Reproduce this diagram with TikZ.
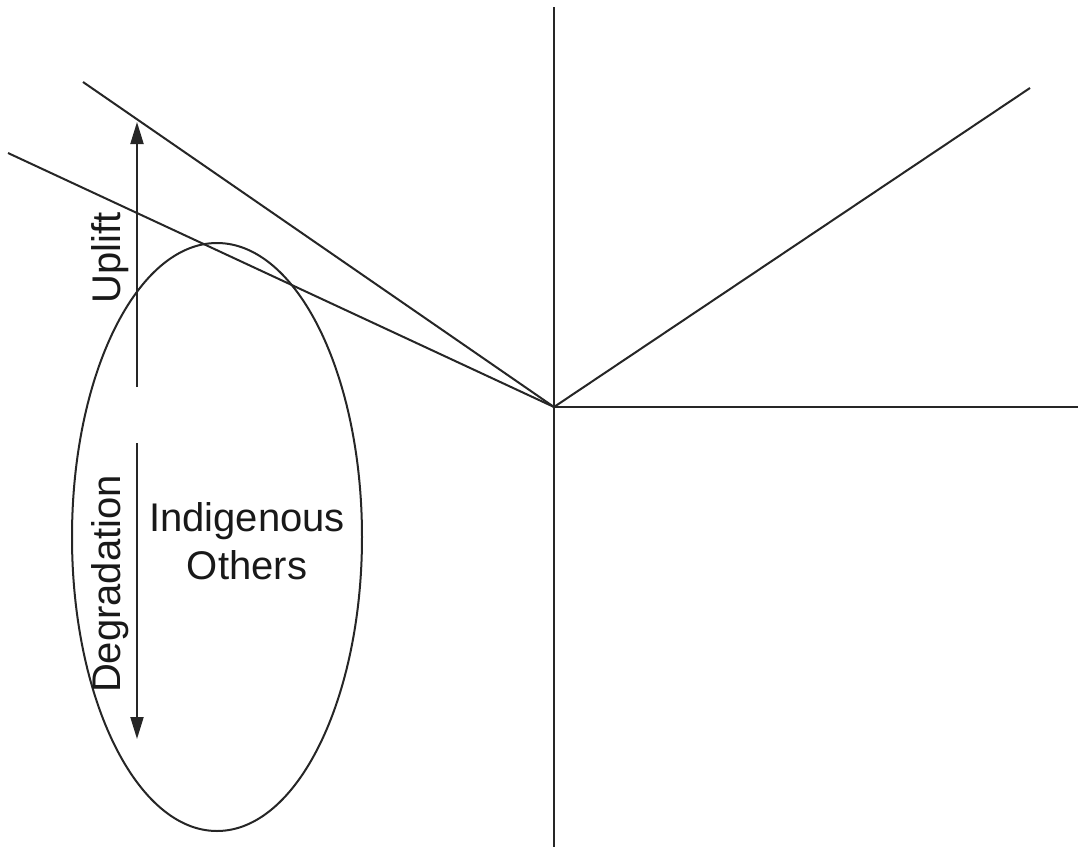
\documentclass[tikz,border=0pt]{standalone}
\usepackage{fontspec}
\setmainfont{Liberation Sans}
\usetikzlibrary{arrows.meta}
\begin{document}
\begin{tikzpicture}[x=0.5pt,y=-0.5pt,
  ln/.style={line width=1pt,draw=black!85},
  arr/.style={ln,-{Triangle[length=11pt,width=6.5pt]}},
  lbl/.style={font=\fontsize{20pt}{24pt}\selectfont,inner sep=0pt,text=black!90}]
\useasboundingbox (0,0) rectangle (1078,847);
\coordinate (O) at (554,407);
\coordinate (vtop) at (554,7);
\coordinate (vbot) at (554,847);
\coordinate (hend) at (1078,407);
\coordinate (rend) at (1030,88);
\coordinate (l1) at (83,82);
\coordinate (l2) at (8,153);
\coordinate (ua) at (137,387);
\coordinate (ub) at (137,122);
\coordinate (da) at (137,443);
\coordinate (db) at (137,739);
\draw[ln] (vtop) -- (vbot);
\draw[ln] (O) -- (hend);
\draw[ln] (O) -- (rend);
\draw[ln] (O) -- (l1);
\draw[ln] (O) -- (l2);
\draw[ln] (217,537) ellipse [x radius=145, y radius=294];
\draw[arr] (ua) -- (ub);
\draw[arr] (da) -- (db);
\node[lbl,rotate=90] (up) at (110,258) {Uplift};
\node[lbl,rotate=90] (deg) at (110,584) {Degradation};
\node[lbl,align=center] (ind) at (247,541) {Indigenous\\Others};
\end{tikzpicture}
\end{document}
